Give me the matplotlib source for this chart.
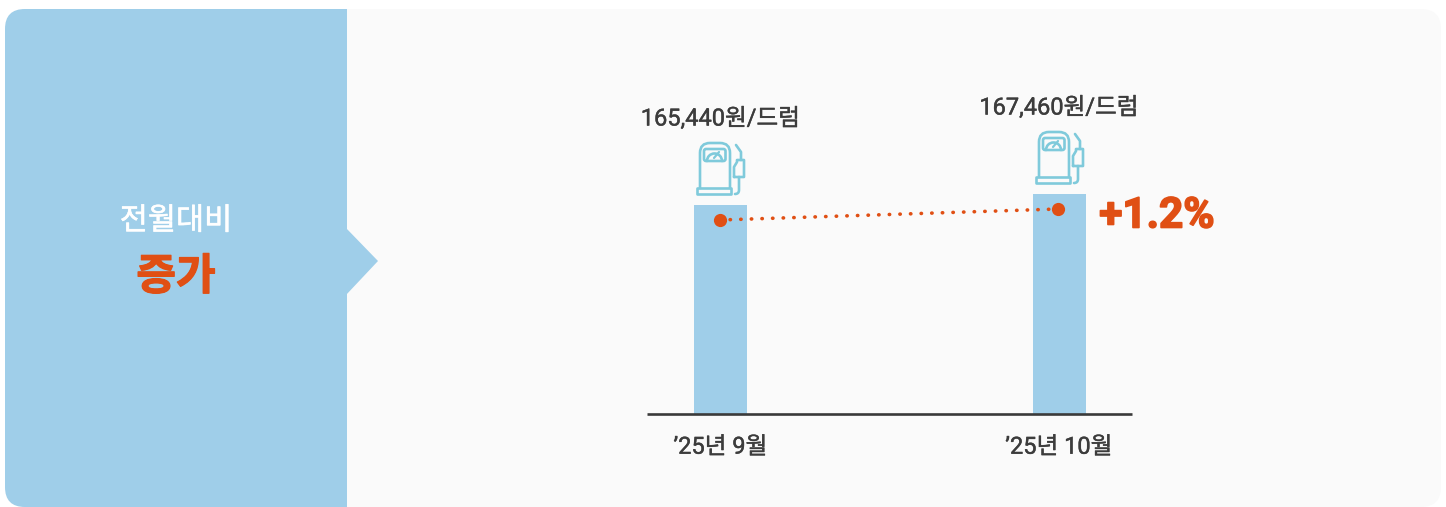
import matplotlib
matplotlib.use('Agg')
import matplotlib.pyplot as plt
import matplotlib.patheffects as pe
from matplotlib.patches import FancyBboxPatch, Polygon, Rectangle, Arc
from matplotlib.path import Path
from matplotlib.patches import PathPatch
from matplotlib.transforms import ScaledTranslation

plt.rcParams['font.family'] = ['Roboto', 'Noto Sans CJK KR', 'DejaVu Sans']

# dados
meses = ["’25년 9월", "’25년 10월"]
precos = [165440, 167460]
rotulos = ["165,440원/드럼", "167,460원/드럼"]
variacao = "+1.2%"
titulo = "전월대비"
resultado = "증가"

AZUL = '#9fcee9'
LARANJA = '#e04f14'
ICONE = '#7fcadb'
TEXTO = '#3c3c3c'
FUNDO = '#fafafa'

W, H = 1446, 507
DPI = 100


def engrossar(cor, largura):
    return [pe.withStroke(linewidth=largura, foreground=cor)]


def desenhar_bomba(ax, dx, dy):
    kw = dict(fill=False, ec=ICONE, lw=1.9, capstyle='round', joinstyle='round')
    # corpo
    corpo = Path([(dx + 700, dy + 188), (dx + 700, dy + 153), (dx + 700, dy + 143), (dx + 710, dy + 143),
                  (dx + 720, dy + 143), (dx + 730, dy + 143), (dx + 730, dy + 153), (dx + 730, dy + 188)],
                 [Path.MOVETO, Path.LINETO, Path.CURVE3, Path.CURVE3, Path.LINETO, Path.CURVE3, Path.CURVE3, Path.LINETO])
    ax.add_patch(PathPatch(corpo, **kw))
    # base
    ax.add_patch(Rectangle((dx + 697, dy + 188), 33.5, 6, **kw))
    # mostrador
    ax.add_patch(FancyBboxPatch((dx + 704, dy + 149), 21.5, 12, boxstyle='round,pad=0,rounding_size=2', **kw))
    ax.add_patch(Arc((dx + 714.5, dy + 161), 15, 15, theta1=180, theta2=360, **kw))
    ax.plot([dx + 714, dx + 719], [dy + 158, dy + 152], color=ICONE, lw=1.6, solid_capstyle='round')
    # bico e mangueira
    ax.plot([dx + 736, dx + 741, dx + 741], [dy + 145, dy + 152, dy + 160], color=ICONE, lw=1.9, solid_capstyle='round')
    bico = Path([(dx + 734, dy + 177), (dx + 734, dy + 167), (dx + 737, dy + 162), (dx + 737, dy + 160),
                 (dx + 744, dy + 160), (dx + 744, dy + 177), (dx + 734, dy + 177)],
                [Path.MOVETO, Path.LINETO, Path.LINETO, Path.LINETO, Path.LINETO, Path.LINETO, Path.LINETO])
    ax.add_patch(PathPatch(bico, **kw))
    mang = Path([(dx + 739, dy + 177), (dx + 739, dy + 190), (dx + 739, dy + 194), (dx + 735, dy + 194)],
                [Path.MOVETO, Path.LINETO, Path.CURVE3, Path.CURVE3])
    ax.add_patch(PathPatch(mang, **kw))


fig = plt.figure(figsize=(W / DPI, H / DPI), dpi=DPI, facecolor='white')

# fundo em coordenadas de pixel
fundo = fig.add_axes([0, 0, 1, 1])
fundo.set_xlim(0, W)
fundo.set_ylim(H, 0)
fundo.axis('off')

painel = FancyBboxPatch((5, 9), 1436, 498, boxstyle='round,pad=0,rounding_size=20', fc=FUNDO, ec='none')
fundo.add_patch(painel)
lateral = FancyBboxPatch((5, 9), 400, 498, boxstyle='round,pad=0,rounding_size=20', fc=AZUL, ec='none')
fundo.add_patch(lateral)
fundo.add_patch(Rectangle((347, 9), 70, 498, fc=FUNDO, ec='none'))
fundo.add_patch(Polygon([(346, 228), (378, 261), (346, 295)], fc=AZUL, ec='none'))

fundo.text(176, 221, titulo, color='white', fontsize=22, ha='center', va='center',
           path_effects=engrossar('white', 0.4))
fundo.text(176, 278, resultado, color=LARANJA, fontsize=31, fontweight='bold', ha='center', va='center',
           path_effects=engrossar(LARANJA, 0.9))

for i, (dx, dy) in enumerate([(0, 0), (339, -11)]):
    desenhar_bomba(fundo, dx, dy)

# barras
x0, x1, y0, y1 = 647, 1132, 413.5, 100
ax = fig.add_axes([x0 / W, 1 - y0 / H, (x1 - x0) / W, (y0 - y1) / H], facecolor='none')
por_pixel = (precos[1] - precos[0]) / 11
base = precos[0] - 208.5 * por_pixel
ax.set_ylim(base, base + (y0 - y1) * por_pixel)
ax.set_xlim(0, x1 - x0)
pos = [73.5, 412]
ax.bar(pos, [p - base for p in precos], bottom=base, width=53, color=AZUL)

desloc = ax.transData + ScaledTranslation(-1 / DPI, -15 / DPI, fig.dpi_scale_trans)
ax.plot(pos, precos, color=LARANJA, lw=2.6, linestyle=(0, (0.1, 2.84)), dash_capstyle='round', transform=desloc)
ax.plot(pos, precos, 'o', color=LARANJA, ms=9.5, mew=0, transform=desloc)

for s in ['top', 'left', 'right']:
    ax.spines[s].set_visible(False)
ax.spines['bottom'].set_color('#3a3a3a')
ax.spines['bottom'].set_linewidth(1.9)
ax.spines['bottom'].set_capstyle('butt')
ax.set_yticks([])
ax.set_xticks(pos)
ax.set_xticklabels(meses, fontsize=17, color=TEXTO, path_effects=engrossar(TEXTO, 0.3))
ax.tick_params(axis='x', length=0, pad=16)

for p, v, r in zip(pos, precos, rotulos):
    ax.annotate(r, (p, v), xytext=(0, 86), textcoords='offset pixels', ha='center', va='center',
                fontsize=17, color=TEXTO, path_effects=engrossar(TEXTO, 0.3))

ax.annotate(variacao, (pos[1], precos[1]), xytext=(98, -22), textcoords='offset pixels', ha='center', va='center',
            fontsize=30.5, fontweight='bold', color=LARANJA, family=['Roboto', 'DejaVu Sans'],
            path_effects=engrossar(LARANJA, 1.2))

fig.savefig('out.png', dpi=DPI)
